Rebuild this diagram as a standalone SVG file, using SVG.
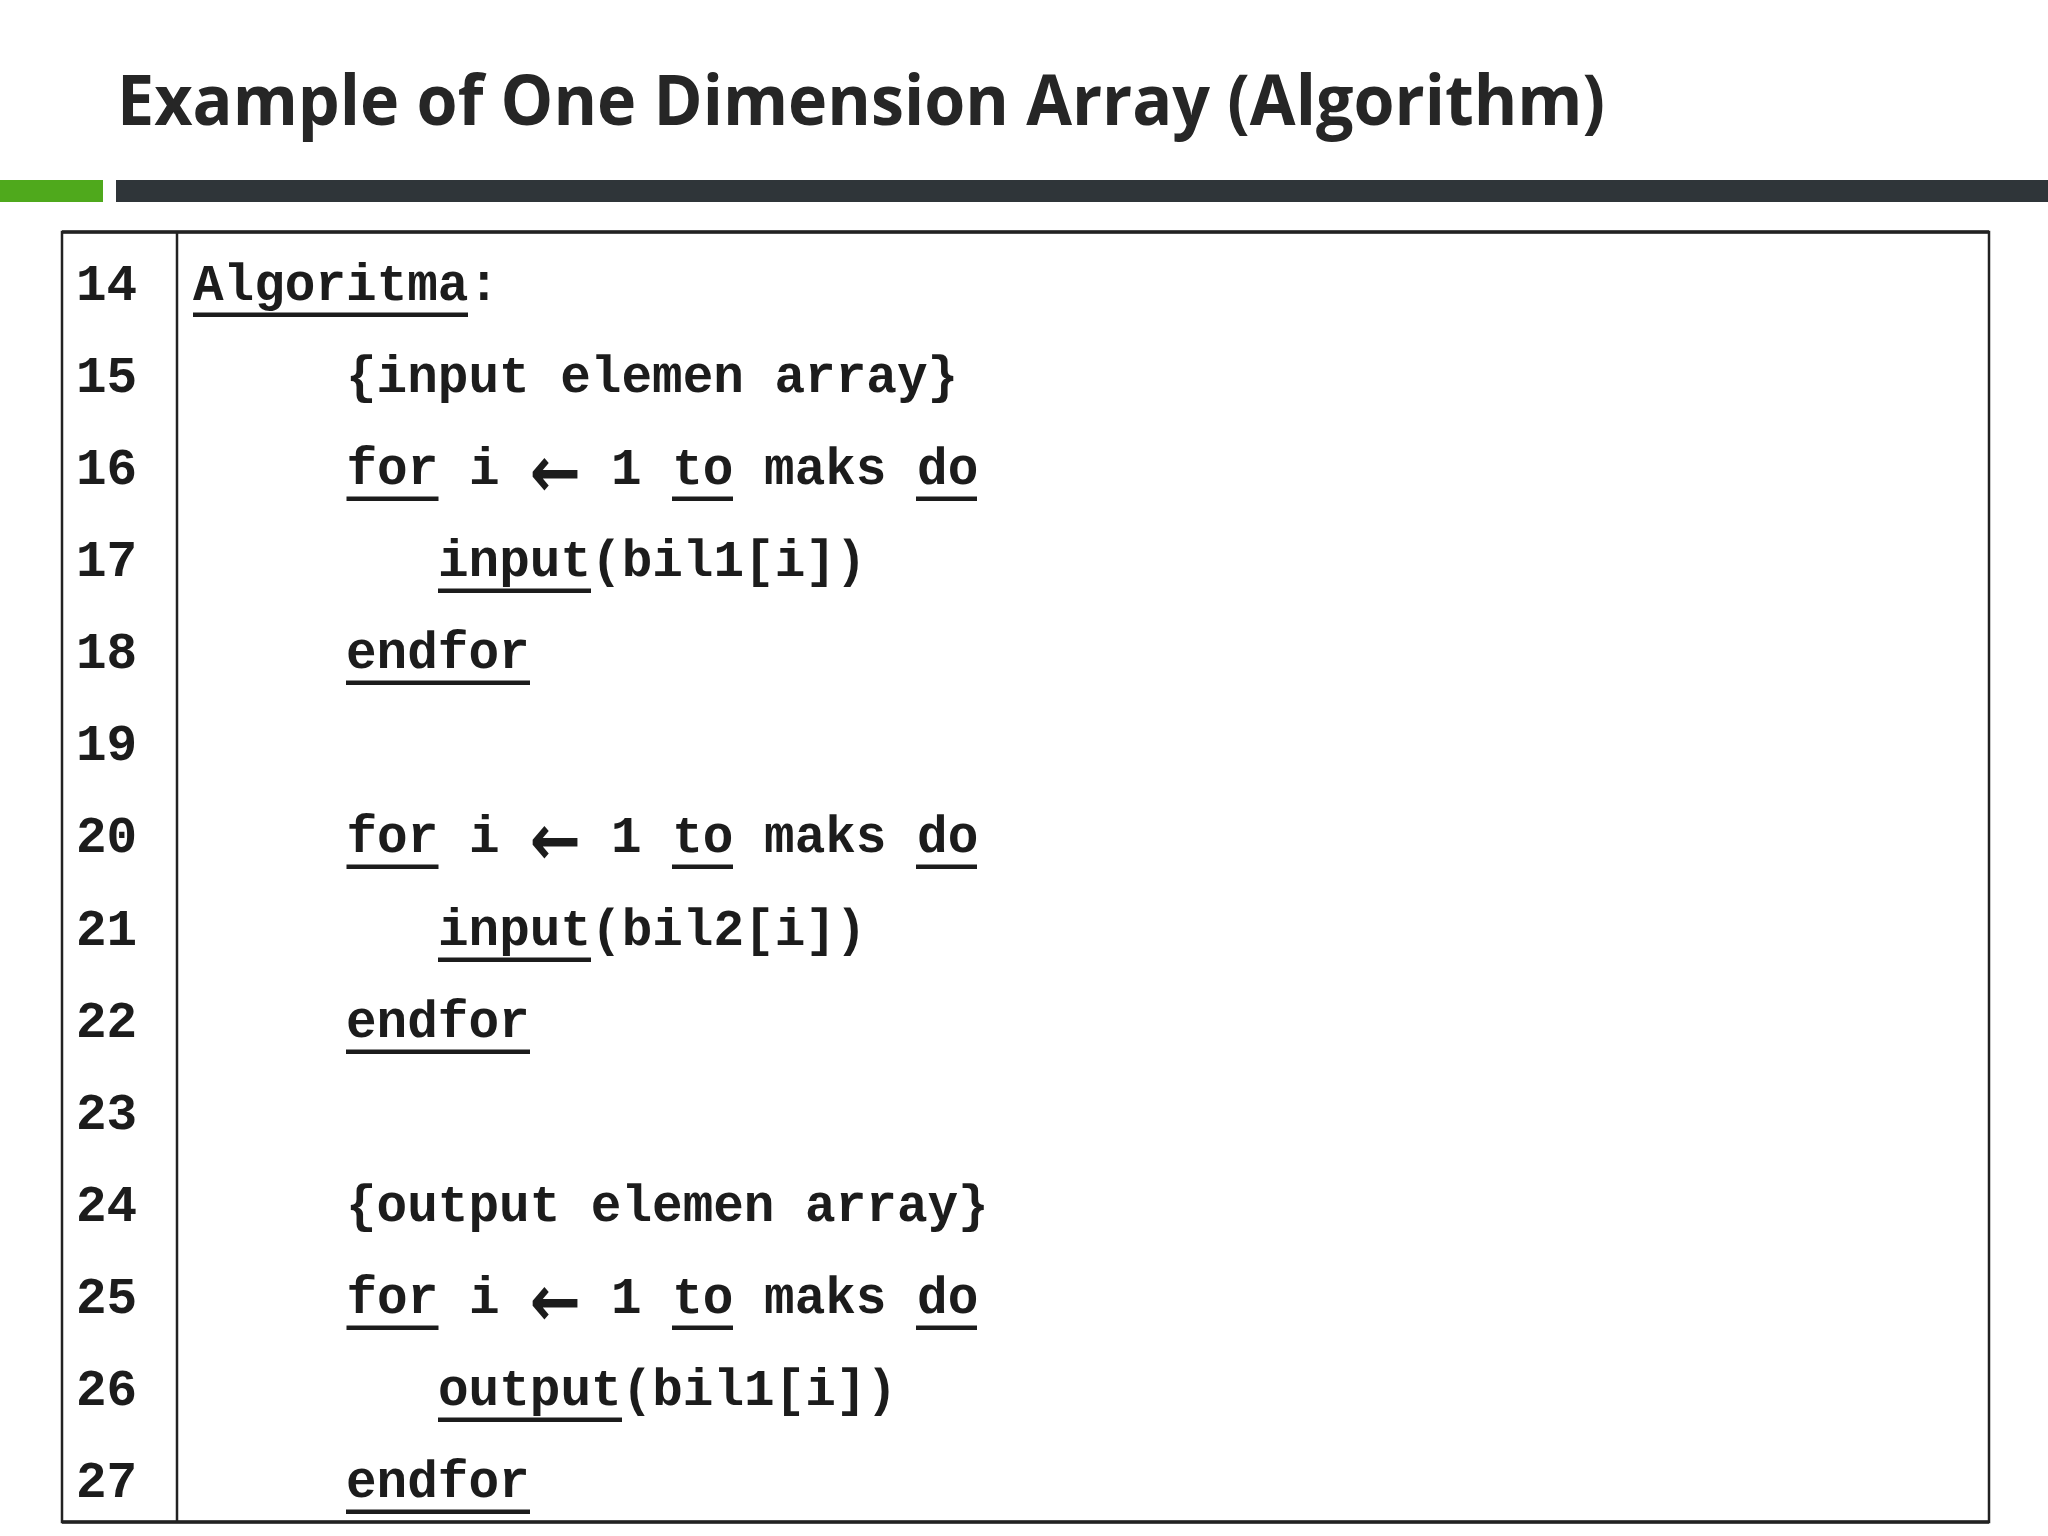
<svg xmlns="http://www.w3.org/2000/svg" width="2048" height="1536" viewBox="0 0 2048 1536">
<style>
.title{font-family:"Open Sans","Liberation Sans",sans-serif;font-weight:700;font-size:70px;fill:#262626}
.code{font-family:"Liberation Mono","DejaVu Sans Mono",monospace;font-weight:700;font-size:51px;fill:#1c1c1c}
.num{font-family:"Liberation Mono","DejaVu Sans Mono",monospace;font-weight:700;font-size:51px;fill:#1c1c1c}
.arr{font-family:"DejaVu Sans","Liberation Sans",sans-serif;font-weight:700;font-size:72px;fill:#1c1c1c;text-anchor:middle}
.ul{fill:#1c1c1c}
.frame{fill:none;stroke:#222;stroke-width:2.5}
</style>
<rect x="0" y="0" width="2048" height="1536" fill="#ffffff"/>
<g id="header">
<text class="title" x="117" y="125" textLength="1488" lengthAdjust="spacingAndGlyphs">Example of One Dimension Array (Algorithm)</text>
<rect x="0" y="180" width="103" height="22" fill="#4fa91c"/>
<rect x="116" y="180" width="1932" height="22" fill="#2f3539"/>
</g>
<g id="table">
<rect class="frame" x="62" y="232" width="1927" height="1290"/>
<line x1="62" y1="232" x2="1989" y2="232" stroke="#222" stroke-width="3.5"/>
<line x1="62" y1="1522" x2="1989" y2="1522" stroke="#222" stroke-width="3.5"/>
<line x1="177" y1="232" x2="177" y2="1522" stroke="#222" stroke-width="2.5"/>
</g>
<g id="line-numbers">
<text class="num" x="76" y="300">14</text>
<text class="num" x="76" y="392">15</text>
<text class="num" x="76" y="484">16</text>
<text class="num" x="76" y="576">17</text>
<text class="num" x="76" y="668">18</text>
<text class="num" x="76" y="760">19</text>
<text class="num" x="76" y="852">20</text>
<text class="num" x="76" y="945">21</text>
<text class="num" x="76" y="1037">22</text>
<text class="num" x="76" y="1129">23</text>
<text class="num" x="76" y="1221">24</text>
<text class="num" x="76" y="1313">25</text>
<text class="num" x="76" y="1405">26</text>
<text class="num" x="76" y="1497">27</text>
</g>
<g id="code">
<g id="l14"><text class="code" x="193" y="300">Algoritma:</text><rect class="ul" x="193" y="312.5" width="275" height="4.5"/></g>
<g id="l15"><text class="code" x="346" y="392">{input elemen array}</text></g>
<g id="l16"><text class="code" x="346.5" y="484">for i</text><text class="arr" transform="translate(555.5,497) scale(0.85,1)">←</text><text class="code" x="611" y="484">1 to maks do</text>
<rect class="ul" x="346.5" y="496.5" width="92" height="4.5"/><rect class="ul" x="672" y="496.5" width="61" height="4.5"/><rect class="ul" x="916" y="496.5" width="61" height="4.5"/></g>
<g id="l17"><text class="code" x="438" y="576">input(bil1[i])</text><rect class="ul" x="438" y="588.5" width="153" height="4.5"/></g>
<g id="l18"><text class="code" x="346" y="668">endfor</text><rect class="ul" x="346" y="680.5" width="184" height="4.5"/></g>
<g id="l20"><text class="code" x="346.5" y="852">for i</text><text class="arr" transform="translate(555.5,865) scale(0.85,1)">←</text><text class="code" x="611" y="852">1 to maks do</text>
<rect class="ul" x="346.5" y="864.5" width="92" height="4.5"/><rect class="ul" x="672" y="864.5" width="61" height="4.5"/><rect class="ul" x="916" y="864.5" width="61" height="4.5"/></g>
<g id="l21"><text class="code" x="438" y="945">input(bil2[i])</text><rect class="ul" x="438" y="957.5" width="153" height="4.5"/></g>
<g id="l22"><text class="code" x="346" y="1037">endfor</text><rect class="ul" x="346" y="1049.5" width="184" height="4.5"/></g>
<g id="l24"><text class="code" x="346" y="1221">{output elemen array}</text></g>
<g id="l25"><text class="code" x="346.5" y="1313">for i</text><text class="arr" transform="translate(555.5,1326) scale(0.85,1)">←</text><text class="code" x="611" y="1313">1 to maks do</text>
<rect class="ul" x="346.5" y="1325.5" width="92" height="4.5"/><rect class="ul" x="672" y="1325.5" width="61" height="4.5"/><rect class="ul" x="916" y="1325.5" width="61" height="4.5"/></g>
<g id="l26"><text class="code" x="438" y="1405">output(bil1[i])</text><rect class="ul" x="438" y="1417.5" width="184" height="4.5"/></g>
<g id="l27"><text class="code" x="346" y="1497">endfor</text><rect class="ul" x="346" y="1509.5" width="184" height="4.5"/></g>
</g>
</svg>
